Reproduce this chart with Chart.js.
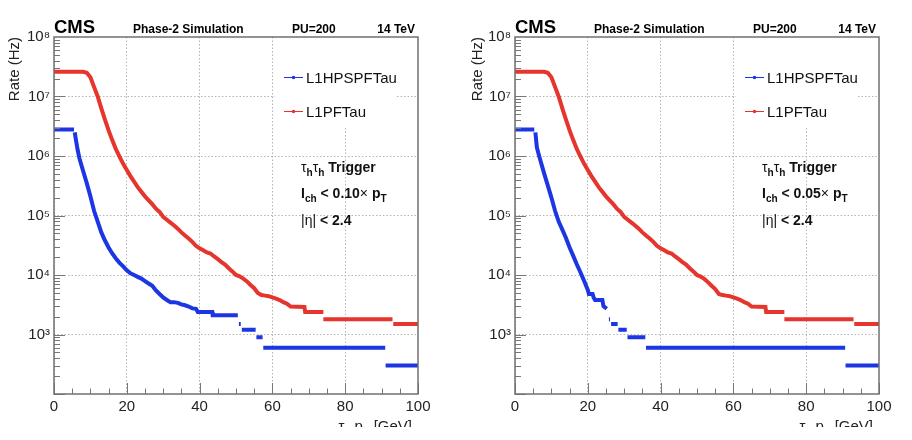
<!DOCTYPE html>
<html>
<head>
<meta charset="utf-8">
<script src="https://cdn.jsdelivr.net/npm/chart.js@4/dist/chart.umd.min.js"></script>
<style>
  body { margin: 0; background: #fff; }
  #wrap { display: flex; width: 912px; height: 440px; }
  canvas { display: block; }
</style>
</head>
<body>
<div id="wrap">
  <canvas id="left" width="456" height="440"></canvas>
  <canvas id="right" width="456" height="440"></canvas>
</div>
<script>
// tau pT threshold (GeV) and trigger rate (Hz); a null rate breaks the line between histogram steps
const seriesNames = ['L1HPSPFTau', 'L1PFTau'];
const xTicks = [0, 20, 40, 60, 80, 100];
const yDecades = [2, 3, 4, 5, 6, 7, 8];

// left panel, I_ch < 0.10 x pT
const ptHpsIso10 = [0, 5.5, 5.6, 5.7, 6, 6.5, 7, 8, 9, 10, 11, 12, 13, 14, 15, 16, 17, 18, 19, 20,
  21, 22, 23, 24, 25, 26, 27, 28, 29, 30, 31, 32, 33, 34, 35, 36, 37, 38, 39, 39.5,
  43.5, 43.6, 50.5, 50.6, 50.8, 51.3, 51.4, 51.6, 55.4, 55.5, 55.6, 57.3, 57.4, 57.5, 91, 91.05, 91.1, 100];
const rateHpsIso10 = [2.8e6, 2.8e6, null, 2.5e6, 1.9e6, 1.26e6, 9.1e5, 5.6e5, 3.5e5, 2.1e5, 1.2e5, 7.9e4, 5.2e4, 3.8e4, 2.9e4, 2.3e4, 1.9e4, 1.6e4, 1.4e4, 1.2e4,
  1.07e4, 1.0e4, 9.3e3, 8.7e3, 7.9e3, 7.2e3, 6.6e3, 5.5e3, 4.8e3, 4.2e3, 3.8e3, 3.5e3, 3.5e3, 3.4e3, 3.2e3, 3.1e3, 2.95e3, 2.75e3, 2.7e3, 2.4e3,
  2.4e3, 2.1e3, 2.1e3, null, 1.5e3, 1.5e3, null, 1.2e3, 1.2e3, null, 900, 900, null, 600, 600, null, 300, 300];

const ptPfIso10 = [0, 8, 9, 10, 11, 12, 13, 14, 15, 16, 17, 18, 19, 20, 21, 22, 23, 24, 25, 26,
  27, 28, 29, 30, 31, 32, 33, 34, 35, 36, 37, 38, 39, 40, 41, 42, 43, 44, 45, 46,
  47, 48, 49, 50, 51, 52, 53, 54, 55, 56, 57, 58, 59, 60, 61, 62, 63, 64, 65, 68.8,
  69, 74, 74, 74, 93, 93.1, 93.2, 100];
const ratePfIso10 = [2.6e7, 2.6e7, 2.5e7, 2.1e7, 1.45e7, 1.0e7, 6.3e6, 4.1e6, 2.7e6, 1.85e6, 1.3e6, 9.8e5, 7.4e5, 5.8e5, 4.6e5, 3.7e5, 3.0e5, 2.5e5, 2.1e5, 1.8e5,
  1.55e5, 1.3e5, 1.15e5, 9.5e4, 8.5e4, 7.6e4, 6.8e4, 6.0e4, 5.2e4, 4.6e4, 4.1e4, 3.6e4, 3.1e4, 2.8e4, 2.6e4, 2.4e4, 2.3e4, 2.05e4, 1.85e4, 1.65e4,
  1.5e4, 1.3e4, 1.15e4, 1.0e4, 9.5e3, 8.7e3, 7.8e3, 6.8e3, 6.0e3, 5.0e3, 4.6e3, 4.5e3, 4.4e3, 4.2e3, 4.0e3, 3.8e3, 3.5e3, 3.3e3, 2.95e3, 2.9e3,
  2.4e3, 2.4e3, null, 1.8e3, 1.8e3, null, 1.5e3, 1.5e3];

// right panel, I_ch < 0.05 x pT
const ptHpsIso05 = [0, 5.3, 5.45, 5.6, 6, 6.5, 7, 8, 9, 10, 11, 12, 13, 14, 15, 16, 17, 18, 19, 20,
  20.3, 21.3, 21.6, 22, 24, 24.3, 25.2, 25.5, 25.8, 26.1, 26.25, 26.4, 28.2, 28.3, 28.4, 30.7, 30.8, 30.9, 35.8, 35.9,
  36, 90.7, 90.75, 90.8, 100];
const rateHpsIso05 = [2.8e6, 2.8e6, null, 2.5e6, 1.4e6, 1.07e6, 8.3e5, 5.1e5, 3.2e5, 2.0e5, 1.2e5, 7.9e4, 5.8e4, 4.2e4, 2.9e4, 2.1e4, 1.5e4, 1.1e4, 7.9e3, 5.6e3,
  4.8e3, 4.8e3, 4.2e3, 3.8e3, 3.8e3, 3.0e3, 2.7e3, null, 1.8e3, 1.8e3, null, 1.5e3, 1.5e3, null, 1.2e3, 1.2e3, null, 900, 900, null,
  600, 600, null, 300, 300];

const ptPfIso05 = [0, 8, 9, 10, 11, 12, 13, 14, 15, 16, 17, 18, 19, 20, 21, 22, 23, 24, 25, 26,
  27, 28, 29, 30, 31, 32, 33, 34, 35, 36, 37, 38, 39, 40, 41, 42, 43, 44, 45, 46,
  47, 48, 49, 50, 51, 52, 53, 54, 55, 56, 57, 58, 59, 60, 61, 62, 63, 64, 65, 68.8,
  69, 74, 74, 74, 93, 93.1, 93.2, 100];
const ratePfIso05 = [2.6e7, 2.6e7, 2.5e7, 2.1e7, 1.45e7, 1.0e7, 6.3e6, 4.1e6, 2.7e6, 1.85e6, 1.3e6, 9.8e5, 7.4e5, 5.8e5, 4.6e5, 3.7e5, 3.0e5, 2.5e5, 2.1e5, 1.8e5,
  1.55e5, 1.3e5, 1.15e5, 9.5e4, 8.5e4, 7.6e4, 6.8e4, 6.0e4, 5.2e4, 4.6e4, 4.1e4, 3.6e4, 3.1e4, 2.8e4, 2.6e4, 2.4e4, 2.3e4, 2.05e4, 1.85e4, 1.65e4,
  1.5e4, 1.3e4, 1.15e4, 1.0e4, 9.4e3, 8.6e3, 7.6e3, 6.6e3, 5.8e3, 4.8e3, 4.6e3, 4.5e3, 4.4e3, 4.2e3, 4.0e3, 3.8e3, 3.5e3, 3.3e3, 2.95e3, 2.9e3,
  2.4e3, 2.4e3, null, 1.8e3, 1.8e3, null, 1.5e3, 1.5e3];

const BLUE = '#1b36e2';
const RED = '#e5352c';
const FAMILY = '"Liberation Sans", Arial, sans-serif';
Chart.defaults.font.family = FAMILY;

const SUP = {2: '²', 3: '³', 4: '⁴', 5: '⁵', 6: '⁶', 7: '⁷', 8: '⁸'};

function toPoints(xs, ys) {
  return xs.map((x, i) => ({x: x, y: ys[i]}));
}

// text with subscripts, ROOT-latex style
function drawRich(ctx, x, y, parts, size, align) {
  const fontOf = p => (p.b ? 'bold ' : '') + (p.sub ? size * 0.72 : size) + 'px ' + FAMILY;
  let w = 0;
  parts.forEach(p => { ctx.font = fontOf(p); w += ctx.measureText(p.t).width; });
  let cx = align === 'right' ? x - w : x;
  parts.forEach(p => {
    ctx.font = fontOf(p);
    ctx.fillText(p.t, cx, y + (p.sub ? size * 0.3 : 0));
    cx += ctx.measureText(p.t).width;
  });
}

const rootFrame = {
  id: 'rootFrame',
  beforeDatasetsDraw(chart) {
    // legend box hides the grid behind it
    const {ctx, chartArea: a} = chart;
    ctx.save();
    ctx.fillStyle = '#fff';
    ctx.fillRect(a.left + 221, a.top + 1, 121, 90);
    ctx.restore();
  },
  afterDraw(chart, args, opts) {
    const {ctx, chartArea: a, scales: {x, y}} = chart;
    ctx.save();

    // inward ticks
    ctx.strokeStyle = '#777';
    ctx.lineWidth = 1;
    ctx.beginPath();
    for (let v = 0; v <= 100; v += 5) {
      const px = Math.round(x.getPixelForValue(v)) + 0.5;
      ctx.moveTo(px, a.bottom);
      ctx.lineTo(px, a.bottom - (v % 20 === 0 ? 11 : 5.5));
    }
    for (let e = 2; e < 8; e++) {
      for (let m = 1; m < 10; m++) {
        const py = Math.round(y.getPixelForValue(m * Math.pow(10, e))) + 0.5;
        ctx.moveTo(a.left, py);
        ctx.lineTo(a.left + (m === 1 ? 11 : 6), py);
      }
    }
    ctx.stroke();

    // frame
    ctx.strokeStyle = '#707070';
    ctx.lineWidth = 1.5;
    ctx.strokeRect(a.left, a.top, a.right - a.left, a.bottom - a.top);

    // legend
    ctx.textBaseline = 'alphabetic';
    chart.data.datasets.forEach((ds, i) => {
      const cy = a.top + 40 + i * 34;
      ctx.strokeStyle = ds.borderColor;
      ctx.lineWidth = 1;
      ctx.beginPath();
      ctx.moveTo(a.left + 230, cy + 0.5);
      ctx.lineTo(a.left + 249, cy + 0.5);
      ctx.stroke();
      ctx.fillStyle = ds.borderColor;
      ctx.beginPath();
      ctx.arc(a.left + 239.5, cy + 0.5, 1.8, 0, Math.PI * 2);
      ctx.fill();
      ctx.fillStyle = '#111';
      ctx.font = '15px ' + FAMILY;
      ctx.fillText(ds.label, a.left + 252, cy + 5.5);
    });

    // selection text
    ctx.fillStyle = '#111';
    const tx = a.left + 247;
    drawRich(ctx, tx, a.top + 135, [
      {t: 'τ'}, {t: 'h', sub: 1, b: 1}, {t: 'τ'}, {t: 'h', sub: 1, b: 1}, {t: ' Trigger', b: 1}
    ], 14);
    drawRich(ctx, tx, a.top + 161, [
      {t: 'I', b: 1}, {t: 'ch', sub: 1, b: 1}, {t: ' < ' + opts.cut, b: 1}, {t: '×'}, {t: ' p', b: 1}, {t: 'T', sub: 1, b: 1}
    ], 14);
    drawRich(ctx, tx, a.top + 188, [{t: '|η|'}, {t: ' < 2.4', b: 1}], 14);

    // header
    ctx.fillStyle = '#000';
    ctx.font = 'bold 18.5px ' + FAMILY;
    ctx.fillText('CMS', a.left, 33);
    ctx.font = 'bold 12px ' + FAMILY;
    ctx.fillText('Phase-2 Simulation', a.left + 79, 33);
    ctx.fillText('PU=200', a.left + 238, 33);
    ctx.textAlign = 'right';
    ctx.fillText('14 TeV', a.right - 3, 33);
    ctx.textAlign = 'left';

    // x title, cut off at the bottom like the original picture
    ctx.beginPath();
    ctx.rect(0, 400, chart.width, 27);
    ctx.clip();
    ctx.fillStyle = '#222';
    drawRich(ctx, a.right - 6, 431, [
      {t: 'τ'}, {t: 'h', sub: 1}, {t: ' p'}, {t: 'T', sub: 1}, {t: ' [GeV]'}
    ], 15, 'right');
    ctx.restore();
  }
};

function makePanel(id, padLeft, axisWidth, cut, ptHps, rateHps, ptPf, ratePf) {
  const ctx = document.getElementById(id).getContext('2d');
  const hideEdge = (lo, hi) => c => (c.tick && (Math.abs(c.tick.value - lo) < 1e-6 * lo || Math.abs(c.tick.value - hi) < 1e-6 * hi)) ? 'rgba(0,0,0,0)' : '#b4b4b4';
  return new Chart(ctx, {
    type: 'line',
    data: {
      datasets: [
        { label: seriesNames[0], data: toPoints(ptHps, rateHps), borderColor: BLUE, backgroundColor: BLUE,
          borderWidth: 4, pointRadius: 0, tension: 0, spanGaps: false },
        { label: seriesNames[1], data: toPoints(ptPf, ratePf), borderColor: RED, backgroundColor: RED,
          borderWidth: 4, pointRadius: 0, tension: 0, spanGaps: false }
      ]
    },
    options: {
      responsive: false,
      animation: false,
      devicePixelRatio: 1,
      layout: { padding: { left: padLeft, right: 456 - 364 - padLeft - axisWidth, top: 37, bottom: 0 } },
      plugins: {
        legend: { display: false },
        tooltip: { enabled: false },
        rootFrame: { cut: cut }
      },
      scales: {
        x: {
          type: 'linear', min: 0, max: 100,
          afterBuildTicks: s => { s.ticks = xTicks.map(v => ({value: v})); },
          afterFit: s => { s.height = 46; },
          ticks: { padding: 4, color: '#222', font: {size: 15}, maxRotation: 0, autoSkip: false },
          grid: { drawTicks: false, color: hideEdge(0.0001, 100), lineWidth: 1 },
          border: { display: false, dash: [1.5, 2] }
        },
        y: {
          type: 'logarithmic', min: 100, max: 1e8,
          afterBuildTicks: s => { s.ticks = yDecades.map(e => ({value: Math.pow(10, e)})); },
          afterFit: s => { s.width = axisWidth; },
          ticks: {
            padding: 4, color: '#222', font: {size: 15}, autoSkip: false,
            callback: v => { const e = Math.round(Math.log10(v)); return e === 2 ? '' : '10' + SUP[e]; }
          },
          grid: { drawTicks: false, color: hideEdge(100, 1e8), lineWidth: 1 },
          border: { display: false, dash: [1.5, 2] },
          title: { display: true, text: 'Rate (Hz)', align: 'end', color: '#222', font: {size: 15}, padding: {top: 6, bottom: 0} }
        }
      }
    },
    plugins: [rootFrame]
  });
}

makePanel('left', 0, 54, '0.10', ptHpsIso10, rateHpsIso10, ptPfIso10, ratePfIso10);
makePanel('right', 7, 52, '0.05', ptHpsIso05, rateHpsIso05, ptPfIso05, ratePfIso05);
</script>
</body>
</html>
